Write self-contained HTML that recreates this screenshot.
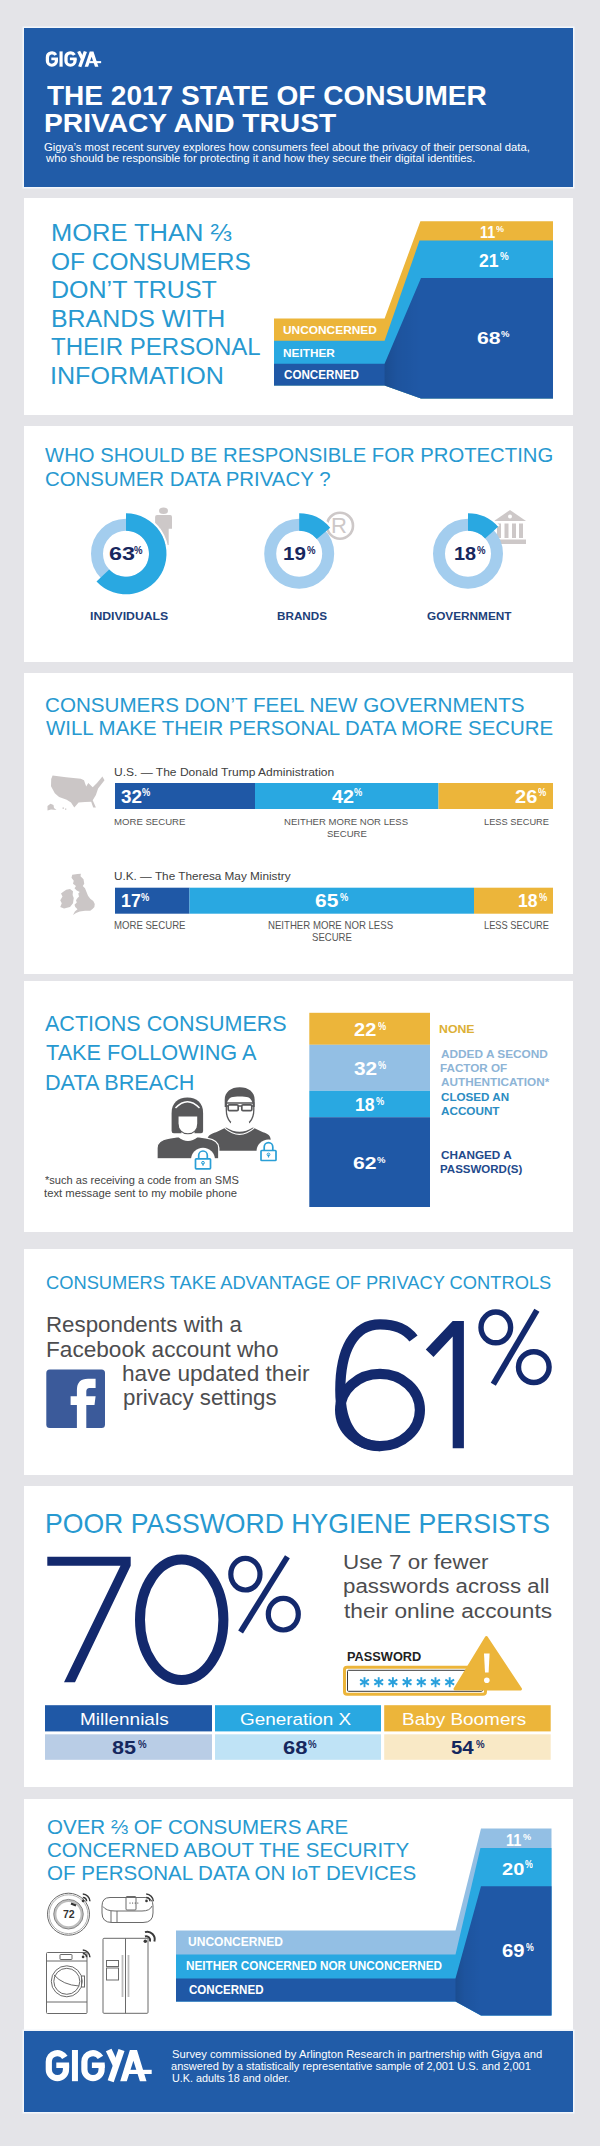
<!DOCTYPE html>
<html><head><meta charset="utf-8"><title>Gigya 2017 State of Consumer Privacy and Trust</title>
<style>
html,body{margin:0;padding:0;}
body{width:600px;height:2146px;position:relative;overflow:hidden;background:#e4e4e8;font-family:"Liberation Sans",sans-serif;}
.p{position:absolute;left:24px;width:549px;background:#fff;}
.t{position:absolute;white-space:nowrap;line-height:1;transform-origin:0 0;}
svg{position:absolute;overflow:visible;}
</style></head><body>
<div class="p" style="top:28px;height:159px;background:#215ca8;box-shadow:0 0 0 1.5px #f2f6fb"></div>
<div class="p" style="top:198px;height:217px"></div>
<div class="p" style="top:426px;height:236px"></div>
<div class="p" style="top:673px;height:301px"></div>
<div class="p" style="top:981px;height:251px"></div>
<div class="p" style="top:1249px;height:226px"></div>
<div class="p" style="top:1486px;height:301px"></div>
<div class="p" style="top:1799px;height:313px"></div>
<div class="p" style="top:2031px;height:81px;background:#215ca8;box-shadow:0 0 0 1.5px #f2f6fb"></div>
<svg style="left:0;top:0" width="600" height="2146" viewBox="0 0 600 2146">
<g transform="translate(45.8,51.4) scale(0.522,0.49)"><g fill="none" stroke="#fff" stroke-linejoin="miter"><path d="M19.15,7.4 A8.6,8.6 0 0 0 3.1,11.7 V19.5 A8.6,8.6 0 0 0 20.3,19.5 V14.6" stroke-width="6.2"/><path d="M23.4,15.25 H10.6" stroke-width="5.5"/><path d="M29.25,0 V31.2" stroke-width="6"/><path d="M54.75,7.4 A8.6,8.6 0 0 0 38.7,11.7 V19.5 A8.6,8.6 0 0 0 55.900000000000006,19.5 V14.6" stroke-width="6.2"/><path d="M59.0,15.25 H46.2" stroke-width="5.5"/><path d="M63,0 L70.3,15.5" stroke-width="6.2"/><path d="M75.8,0 L65,31.2" stroke-width="6.4"/></g><path fill="#fff" d="M74.5,31.2 L84.2,0 H91.3 L100.8,31.2 H94.2 L87.7,10.8 L81.1,31.2 Z"/><rect x="83.2" y="19.8" width="22.8" height="4.2" fill="#fff"/></g>
<g transform="translate(45.7,2050.0) scale(1.0,1.0)"><g fill="none" stroke="#fff" stroke-linejoin="miter"><path d="M19.15,7.4 A8.6,8.6 0 0 0 3.1,11.7 V19.5 A8.6,8.6 0 0 0 20.3,19.5 V14.6" stroke-width="6.2"/><path d="M23.4,15.25 H10.6" stroke-width="5.5"/><path d="M29.25,0 V31.2" stroke-width="6"/><path d="M54.75,7.4 A8.6,8.6 0 0 0 38.7,11.7 V19.5 A8.6,8.6 0 0 0 55.900000000000006,19.5 V14.6" stroke-width="6.2"/><path d="M59.0,15.25 H46.2" stroke-width="5.5"/><path d="M63,0 L70.3,15.5" stroke-width="6.2"/><path d="M75.8,0 L65,31.2" stroke-width="6.4"/></g><path fill="#fff" d="M74.5,31.2 L84.2,0 H91.3 L100.8,31.2 H94.2 L87.7,10.8 L81.1,31.2 Z"/><rect x="83.2" y="19.8" width="22.8" height="4.2" fill="#fff"/></g>
<path fill="#ecb53a" d="M274,318.4 H384.6 L420.4,221.3 H553 H553 V398.4 H421 L384.6,385.5 H274 Z"/>
<path fill="#29a8e1" d="M274,340.8 H384.6 L419.5,240.6 H553 H553 V398.4 H421 L384.6,385.5 H274 Z"/>
<path fill="#1f58a6" d="M274,363.7 H384.6 L421,278 H553 H553 V398.4 H421 L384.6,385.5 H274 Z"/>
<defs><linearGradient id="fold2" x1="0" x2="1" y1="0" y2="0"><stop offset="0" stop-color="#000" stop-opacity="0.13"/><stop offset="0.35" stop-color="#000" stop-opacity="0.05"/><stop offset="1" stop-color="#000" stop-opacity="0"/></linearGradient></defs><path fill="url(#fold2)" d="M384.6,363.7 L421,278 V398.4 L384.6,385.5 Z"/>
<g fill="#cdc8c8"><ellipse cx="163.5" cy="510.7" rx="4.5" ry="3.2"/><path d="M157,515.1 H170.2 Q172,515.1 172,517 V528.7 H168.7 V545 H160.7 V528.7 H155.1 V517 Q155.1,515.1 157,515.1 Z"/></g>
<circle cx="340" cy="525.7" r="13" fill="none" stroke="#cdc8c8" stroke-width="2.6"/>
<g fill="#cdc8c8"><path d="M510,510 L526,521 H494 Z"/><rect x="494" y="539.5" width="32" height="4.5"/><rect x="497" y="523.5" width="4" height="14.5"/><rect x="504.5" y="523.5" width="4" height="14.5"/><rect x="512" y="523.5" width="4" height="14.5"/><rect x="519" y="523.5" width="4" height="14.5"/></g>
<circle cx="510" cy="516.5" r="2" fill="#fff"/>
<circle cx="126" cy="553.8" r="29" fill="none" stroke="#a3cdee" stroke-width="12"/>
<path fill="none" stroke="#fff" stroke-width="2.2" d="M126,512.3 A41.5,41.5 0 1 1 95.75,582.21"/><path fill="#29a8e1" d="M126.00,513.30 A40.5,40.5 0 1 1 96.48,581.52 L109.23,569.54 A23,23 0 1 0 126.00,530.80 Z"/>
<circle cx="299.2" cy="553.8" r="29" fill="none" stroke="#a3cdee" stroke-width="12"/>
<path fill="none" stroke="#fff" stroke-width="2.2" d="M299.2,512.3 A41.5,41.5 0 0 1 330.99,527.12"/><path fill="#29a8e1" d="M299.20,513.30 A40.5,40.5 0 0 1 330.22,527.77 L316.82,539.02 A23,23 0 0 0 299.20,530.80 Z"/>
<circle cx="468" cy="553.8" r="29" fill="none" stroke="#a3cdee" stroke-width="12"/>
<path fill="none" stroke="#fff" stroke-width="2.2" d="M468,512.3 A41.5,41.5 0 0 1 498.84,526.03"/><path fill="#29a8e1" d="M468.00,513.30 A40.5,40.5 0 0 1 498.10,526.70 L485.09,538.41 A23,23 0 0 0 468.00,530.80 Z"/>
<path fill="#cbc6c6" d="M52.6,775.4 L66,777.2 L80.8,778.7 L84,780.3 L86.2,786.5 L88.3,783 L92.7,787.3 L97,783 L102.4,776.5 L104.5,780.3 L98.1,788.4 L95.9,795 L92.7,800.3 L95.9,807.4 L93.2,807.4 L91.2,801.8 L85,802 L78.6,802.5 L74.3,807.6 L71,802.5 L66.7,799.8 L59.1,797 L54.8,793.3 L51,786.2 L51.2,779 Z"/>
<path fill="#cbc6c6" d="M47.5,806 L50.5,803.8 L53.5,805 L54,808 L56.5,810 L51,809.5 L47.5,810.5 Z"/>
<path fill="#cbc6c6" d="M62.5,807.5 h1.5 v1.2 h-1.5 Z M65,808.5 h1.3 v1.3 h-1.3 Z"/>
<path fill="#cbc6c6" d="M77.51,874.00 L80.88,873.63 L80.51,876.25 L83.51,879.25 L84.26,883.75 L82.76,886.00 L85.01,888.26 L86.51,892.01 L88.01,895.76 L90.26,898.76 L93.26,901.01 L94.76,904.01 L94.38,907.01 L92.51,908.89 L90.26,910.76 L85.01,910.76 L79.76,911.51 L76.01,913.01 L73.00,914.89 L74.88,911.51 L77.51,909.26 L75.26,907.01 L74.50,904.76 L76.76,902.51 L76.01,900.26 L77.51,898.01 L79.01,896.51 L78.26,893.51 L79.76,892.01 L76.76,890.51 L74.50,888.26 L76.01,886.00 L73.00,883.75 L73.75,880.75 L71.50,877.75 L72.25,874.75 Z"/>
<path fill="#cbc6c6" d="M66.25,889.76 L70.00,889.01 L73.00,891.26 L72.63,895.01 L73.75,898.01 L73.00,903.26 L70.00,907.01 L64.00,908.51 L60.25,907.01 L61.75,903.26 L60.25,900.26 L62.50,896.51 L61.00,893.51 L64.00,891.26 Z"/>
<rect x="115" y="783" width="140" height="26" fill="#1f58a6"/>
<rect x="255" y="783" width="183.5" height="26" fill="#29a8e1"/>
<rect x="438.5" y="783" width="114.5" height="26" fill="#ecb53a"/>
<rect x="115" y="887.7" width="74.5" height="26.0" fill="#1f58a6"/>
<rect x="189.5" y="887.7" width="284.5" height="26.0" fill="#29a8e1"/>
<rect x="474" y="887.7" width="79" height="26.0" fill="#ecb53a"/>
<rect x="309.3" y="1012.8" width="120.69999999999999" height="32.0" fill="#ecb53a"/>
<rect x="309.3" y="1044.8" width="120.69999999999999" height="46.0" fill="#93bfe4"/>
<rect x="309.3" y="1090.8" width="120.69999999999999" height="26.40000000000009" fill="#29a8e1"/>
<rect x="309.3" y="1117.2" width="120.69999999999999" height="89.79999999999995" fill="#1f58a6"/>
<g><path fill="#58585a" d="M207.3,1150.7 V1140 C207.3,1135.5 211,1133.8 216,1132.2 L226,1127.5 Q239.5,1136 253,1127.5 L263,1132.2 C268,1133.8 270.7,1135.5 270.7,1140 V1150.7 Z"/><path fill="none" stroke="#fff" stroke-width="1.1" d="M224.8,1128.2 Q239.5,1140.5 254.2,1128.2"/><path fill="#fff" stroke="#58585a" stroke-width="1.3" d="M226.3,1103 V1110 C226.3,1120 232,1126 240,1126 C248,1126 253.8,1120 253.8,1110 V1103 Z"/><path fill="#fff" d="M231,1122 H249 V1129 Q240,1133 231,1129 Z"/><path fill="#58585a" d="M224.7,1107 V1100 C224.7,1092 231,1087.3 239.7,1087.3 C248.4,1087.3 254.7,1092 254.7,1100 V1107 H253 C252.8,1101.5 251,1098.5 248,1097.3 C245,1096.3 234.5,1096.3 231.5,1097.3 C228.5,1098.5 226.8,1101.5 226.5,1107 Z"/><g fill="none" stroke="#58585a" stroke-width="1.7"><rect x="228.2" y="1104.8" width="10" height="5.8" rx="1.2"/><rect x="241.8" y="1104.8" width="10" height="5.8" rx="1.2"/><path d="M238.2,1106 H241.8 M226.3,1106 H228.2 M251.8,1106 H253.8"/></g></g>
<g><path fill="#58585a" stroke="#fff" stroke-width="1.3" d="M157,1158.8 V1148 C157,1142 162,1139.5 169,1138.2 L178.5,1136.5 Q187.9,1144 197.5,1136.5 L207,1138.2 C214,1139.5 218.8,1142 218.8,1148 V1158.8 Z"/><path fill="#58585a" d="M171.6,1131 V1113 C171.6,1103 178,1097.6 187.4,1097.6 C196.8,1097.6 203.1,1103 203.1,1113 V1131 Q203.1,1133.2 201,1133.2 H173.8 Q171.6,1133.2 171.6,1131 Z"/><path fill="#fff" d="M181.5,1130 H194.5 V1137 Q187.9,1141.5 181.5,1137 Z"/><path fill="#fff" stroke="#58585a" stroke-width="1.1" d="M178,1116 V1123.5 C178,1130 182.5,1133.8 187.9,1133.8 C193.3,1133.8 197.8,1130 197.8,1123.5 V1116 Z"/><path fill="none" stroke="#fff" stroke-width="1.4" d="M175.5,1108 Q187.4,1095.5 199.5,1108"/></g>
<circle cx="203" cy="1159.8" r="12" fill="#fff"/><g fill="none" stroke="#2a9fd6" stroke-width="1.7"><path d="M198.7,1158.8 V1155.3 A4.3,4.3 0 0 1 207.3,1155.3 V1158.8"/><rect x="195.5" y="1158.8" width="15" height="10" rx="0.8"/><path d="M203,1162.8 v3" stroke-width="1.2"/></g><circle cx="203" cy="1162.8" r="1.4" fill="none" stroke="#2a9fd6" stroke-width="1"/>
<circle cx="268.5" cy="1151.5" r="12" fill="#fff"/><g fill="none" stroke="#2a9fd6" stroke-width="1.7"><path d="M264.2,1150.5 V1147.0 A4.3,4.3 0 0 1 272.8,1147.0 V1150.5"/><rect x="261.0" y="1150.5" width="15" height="10" rx="0.8"/><path d="M268.5,1154.5 v3" stroke-width="1.2"/></g><circle cx="268.5" cy="1154.5" r="1.4" fill="none" stroke="#2a9fd6" stroke-width="1"/>
<rect x="46.3" y="1369.4" width="58.7" height="58.7" rx="3.5" fill="#3b5a9a"/>
<path fill="#fff" d="M76.9,1428.1 V1405 H70.6 V1396.3 H76.9 V1390 Q76.9,1378.8 88,1378.8 H95.6 V1388 H89.5 Q86.3,1388 86.3,1391.5 V1396.3 H95.6 L94.5,1405 H86.3 V1428.1 Z"/>
<g fill="none" stroke="#13296d" stroke-width="10.2"><path d="M413.5,1338.5 C406,1328.5 395,1324.3 380,1324.3 C354,1324.3 340.3,1350 340.3,1390 C340.3,1427 355,1446.1 380,1446.1"/><ellipse cx="380" cy="1410" rx="39.9" ry="36.2"/></g>
<path fill="#13296d" d="M452.7,1321 H463.9 V1448.2 H452.7 V1336.5 L433.5,1357 L425.8,1349.5 Z"/>
<g fill="none" stroke="#13296d"><ellipse cx="495.8" cy="1327.4" rx="14.8" ry="15.4" stroke-width="5.4"/><ellipse cx="533.8" cy="1367.1" rx="15.3" ry="15.4" stroke-width="5.4"/><path d="M536.9,1310.3 L493.3,1384.2" stroke-width="5.9"/></g>
<path fill="#13296d" d="M47.3,1556.7 H130.7 V1565.7 L75,1682.3 H64 L120.5,1565.7 H47.3 Z"/>
<ellipse cx="181.7" cy="1619.7" rx="41.7" ry="60.3" fill="none" stroke="#13296d" stroke-width="10"/>
<g fill="none" stroke="#13296d"><ellipse cx="245.4" cy="1574.2" rx="14.6" ry="15.8" stroke-width="5.2"/><ellipse cx="283.3" cy="1614.2" rx="15" ry="15.8" stroke-width="5.2"/><path d="M287.4,1556.8 L240.6,1631.9" stroke-width="5.7"/></g>
<rect x="344.5" y="1667.3" width="141" height="27" rx="2.5" fill="#fff" stroke="#ecb53a" stroke-width="3"/>
<rect x="347.5" y="1670.3" width="135" height="21" rx="1" fill="none" stroke="#3a3a3a" stroke-width="1"/>
<g stroke="#29a0dc" stroke-width="1.9" stroke-linecap="butt"><path d="M364.5,1677.2 V1687.2"/><path d="M360.1,1679.7 L368.9,1684.7"/><path d="M360.1,1684.7 L368.9,1679.7"/></g>
<g stroke="#29a0dc" stroke-width="1.9" stroke-linecap="butt"><path d="M378.7,1677.2 V1687.2"/><path d="M374.3,1679.7 L383.09999999999997,1684.7"/><path d="M374.3,1684.7 L383.09999999999997,1679.7"/></g>
<g stroke="#29a0dc" stroke-width="1.9" stroke-linecap="butt"><path d="M392.9,1677.2 V1687.2"/><path d="M388.5,1679.7 L397.29999999999995,1684.7"/><path d="M388.5,1684.7 L397.29999999999995,1679.7"/></g>
<g stroke="#29a0dc" stroke-width="1.9" stroke-linecap="butt"><path d="M407.1,1677.2 V1687.2"/><path d="M402.70000000000005,1679.7 L411.5,1684.7"/><path d="M402.70000000000005,1684.7 L411.5,1679.7"/></g>
<g stroke="#29a0dc" stroke-width="1.9" stroke-linecap="butt"><path d="M421.3,1677.2 V1687.2"/><path d="M416.90000000000003,1679.7 L425.7,1684.7"/><path d="M416.90000000000003,1684.7 L425.7,1679.7"/></g>
<g stroke="#29a0dc" stroke-width="1.9" stroke-linecap="butt"><path d="M435.5,1677.2 V1687.2"/><path d="M431.1,1679.7 L439.9,1684.7"/><path d="M431.1,1684.7 L439.9,1679.7"/></g>
<g stroke="#29a0dc" stroke-width="1.9" stroke-linecap="butt"><path d="M449.7,1677.2 V1687.2"/><path d="M445.3,1679.7 L454.09999999999997,1684.7"/><path d="M445.3,1684.7 L454.09999999999997,1679.7"/></g>
<path fill="#ecb53a" stroke="#ecb53a" stroke-width="3" stroke-linejoin="round" d="M486.4,1637.5 L520.5,1689 H455 Z"/>
<path fill="#fff" d="M484,1653.5 H489.6 L488.6,1672.5 H485 Z"/><circle cx="486.8" cy="1680.3" r="2.8" fill="#fff"/>
<rect x="45" y="1705.2" width="167" height="26.2" fill="#1f58a6"/>
<rect x="45" y="1734.3" width="167" height="25.5" fill="#b9cde6"/>
<rect x="215" y="1705.2" width="166" height="26.2" fill="#29a8e1"/>
<rect x="215" y="1734.3" width="166" height="25.5" fill="#bfe3f6"/>
<rect x="384.2" y="1705.2" width="166.50000000000006" height="26.2" fill="#ecb53a"/>
<rect x="384.2" y="1734.3" width="166.50000000000006" height="25.5" fill="#f9e9c6"/>
<path fill="#93bfe4" d="M176,1930.5 H455.5 L481,1828.5 H551.5 H551.5 V2015.4 H481 L455.5,2001.6 H176 Z"/>
<path fill="#29a8e1" d="M176,1954.5 H455.5 L480.4,1848 H551.5 H551.5 V2015.4 H481 L455.5,2001.6 H176 Z"/>
<path fill="#1f58a6" d="M176,1978.5 H455.5 L481,1886.3 H551.5 H551.5 V2015.4 H481 L455.5,2001.6 H176 Z"/>
<defs><linearGradient id="fold8" x1="0" x2="1" y1="0" y2="0"><stop offset="0" stop-color="#000" stop-opacity="0.13"/><stop offset="0.35" stop-color="#000" stop-opacity="0.05"/><stop offset="1" stop-color="#000" stop-opacity="0"/></linearGradient></defs><path fill="url(#fold8)" d="M455.5,1978.5 L481,1886.3 V2015.4 L455.5,2001.6 Z"/>
<circle cx="68.5" cy="1914.2" r="21" fill="none" stroke="#6a6a6a" stroke-width="1"/><circle cx="68.5" cy="1914.2" r="19.4" fill="none" stroke="#9a9a9a" stroke-width="0.8"/>
<circle cx="68.5" cy="1914.2" r="13.3" fill="none" stroke="#bdbdbd" stroke-width="2.4"/>
<circle cx="68.5" cy="1914.2" r="14.8" fill="none" stroke="#6a6a6a" stroke-width="0.8"/>
<path d="M71,1903.5 L76,1905.5" stroke="#333" stroke-width="2.2"/>
<g fill="none" stroke="#3a3a3a" stroke-width="1.52"><path d="M82.8,1897.4 A4,4 0 0 1 86.6,1901.2"/><path d="M82.8,1894.075 A7.5,7.5 0 0 1 89.925,1901.2"/></g><circle cx="83.1" cy="1900.9" r="1.3299999999999998" fill="#3a3a3a"/>
<g fill="none" stroke="#6a6a6a" stroke-width="1"><path d="M110,1897.5 H145 Q153,1897.5 153,1906 V1913 Q153,1922.5 143,1922.5 H112 Q102,1922.5 102,1913 V1906 Q102,1897.5 110,1897.5 Z"/><path d="M103,1906.5 Q106,1911 115,1911 H142 Q150,1911 152,1906"/><path d="M111,1911 V1922.5 M117,1911 V1922.5"/><rect x="126" y="1896.5" width="10" height="13.5" rx="1"/></g>
<circle cx="130.0" cy="1903" r="0.6" fill="#333"/><circle cx="132.6" cy="1903" r="0.6" fill="#333"/><circle cx="135.2" cy="1903" r="0.6" fill="#333"/><circle cx="137.8" cy="1903" r="0.6" fill="#333"/>
<g fill="none" stroke="#3a3a3a" stroke-width="1.52"><path d="M146.2,1897.4 A4,4 0 0 1 150.0,1901.2"/><path d="M146.2,1894.075 A7.5,7.5 0 0 1 153.325,1901.2"/></g><circle cx="146.5" cy="1900.9" r="1.3299999999999998" fill="#3a3a3a"/>
<g fill="none" stroke="#6a6a6a" stroke-width="1"><rect x="46.5" y="1952.5" width="40.5" height="61" rx="1"/><path d="M46.5,1961 H87 M46.5,2002 H87"/><rect x="60" y="1954.5" width="12" height="5" rx="0.5"/><circle cx="66.8" cy="1981.3" r="15.5"/><circle cx="66.8" cy="1981.3" r="13"/><path d="M54,1975 Q63,1985 79,1986"/><rect x="81.5" y="1976" width="3" height="11"/></g>
<g fill="none" stroke="#3a3a3a" stroke-width="1.52"><path d="M82.8,1953.4 A4,4 0 0 1 86.6,1957.2"/><path d="M82.8,1950.075 A7.5,7.5 0 0 1 89.925,1957.2"/></g><circle cx="83.1" cy="1956.9" r="1.3299999999999998" fill="#3a3a3a"/>
<g fill="none" stroke="#6a6a6a" stroke-width="1"><rect x="103" y="1938.3" width="45" height="75" rx="1"/><path d="M125.5,1938.3 V2013.3"/><rect x="106.5" y="1960.5" width="12" height="6"/><rect x="106.5" y="1968" width="12" height="12"/></g>
<g fill="none" stroke="#bdbdbd" stroke-width="1.8"><path d="M122.5,1955 V1997 M128.5,1955 V1997"/></g>
<g fill="none" stroke="#3a3a3a" stroke-width="2.0"><path d="M145,1936.5 A4,4 0 0 1 150.0,1941.5"/><path d="M145,1932.125 A7.5,7.5 0 0 1 154.375,1941.5"/></g><circle cx="145.3" cy="1941.2" r="1.75" fill="#3a3a3a"/>
</svg>
<div class="t" style="left:46.52px;top:82.45px;font-size:27.23px;color:#fff;font-weight:bold;transform:scaleX(1.0298);">THE 2017 STATE OF CONSUMER</div>
<div class="t" style="left:44.02px;top:110.04px;font-size:26.54px;color:#fff;font-weight:bold;transform:scaleX(1.0620);">PRIVACY AND TRUST</div>
<div class="t" style="left:44.43px;top:141.96px;font-size:11.03px;color:#fff;transform:scaleX(1.0230);">Gigya’s most recent survey explores how consumers feel about the privacy of their personal data,</div>
<div class="t" style="left:46.00px;top:152.54px;font-size:11.17px;color:#fff;transform:scaleX(1.0166);">who should be responsible for protecting it and how they secure their digital identities.</div>
<div class="t" style="left:50.55px;top:220.55px;font-size:24.16px;color:#2799d0;transform:scaleX(1.0548);">MORE THAN ⅔</div>
<div class="t" style="left:51.38px;top:250.10px;font-size:24.16px;color:#2799d0;transform:scaleX(1.0124);">OF CONSUMERS</div>
<div class="t" style="left:50.59px;top:277.65px;font-size:24.16px;color:#2799d0;transform:scaleX(1.0357);">DON’T TRUST</div>
<div class="t" style="left:50.60px;top:307.20px;font-size:24.16px;color:#2799d0;transform:scaleX(1.0311);">BRANDS WITH</div>
<div class="t" style="left:51.11px;top:334.75px;font-size:24.16px;color:#2799d0;transform:scaleX(0.9949);">THEIR PERSONAL</div>
<div class="t" style="left:50.34px;top:364.30px;font-size:24.16px;color:#2799d0;transform:scaleX(1.0387);">INFORMATION</div>
<div class="t" style="left:283.28px;top:324.54px;font-size:11.17px;color:#fff;font-weight:bold;transform:scaleX(1.0663);">UNCONCERNED</div>
<div class="t" style="left:283.18px;top:347.81px;font-size:11.45px;color:#fff;font-weight:bold;transform:scaleX(1.0320);">NEITHER</div>
<div class="t" style="left:283.54px;top:369.95px;font-size:11.87px;color:#fff;font-weight:bold;transform:scaleX(0.9803);">CONCERNED</div>
<div class="t" style="left:479.93px;top:224.38px;font-size:17.04px;color:#fff;font-weight:bold;transform:scaleX(0.8400);">11</div>
<div class="t" style="left:496.48px;top:224.33px;font-size:9.88px;color:#fff;font-weight:bold;transform:scaleX(0.9090);">%</div>
<div class="t" style="left:478.65px;top:252.57px;font-size:17.88px;color:#fff;font-weight:bold;transform:scaleX(0.9861);">21</div>
<div class="t" style="left:499.58px;top:251.52px;font-size:10.37px;color:#fff;font-weight:bold;transform:scaleX(0.9430);">%</div>
<div class="t" style="left:476.55px;top:330.06px;font-size:17.18px;color:#fff;font-weight:bold;transform:scaleX(1.2340);">68</div>
<div class="t" style="left:500.59px;top:329.02px;font-size:9.96px;color:#fff;font-weight:bold;transform:scaleX(0.9546);">%</div>
<div class="t" style="left:45.00px;top:445.24px;font-size:20.39px;color:#2799d0;transform:scaleX(0.9953);">WHO SHOULD BE RESPONSIBLE FOR PROTECTING</div>
<div class="t" style="left:44.98px;top:469.34px;font-size:20.39px;color:#2799d0;transform:scaleX(1.0020);">CONSUMER DATA PRIVACY ?</div>
<div class="t" style="left:108.65px;top:544.89px;font-size:18.44px;color:#17275e;font-weight:bold;transform:scaleX(1.2650);">63</div>
<div class="t" style="left:134.40px;top:544.85px;font-size:10.69px;color:#17275e;font-weight:bold;transform:scaleX(0.8962);">%</div>
<div class="t" style="left:282.76px;top:544.89px;font-size:18.44px;color:#17275e;font-weight:bold;transform:scaleX(1.1168);">19</div>
<div class="t" style="left:306.87px;top:544.85px;font-size:10.69px;color:#17275e;font-weight:bold;transform:scaleX(0.8962);">%</div>
<div class="t" style="left:454.40px;top:544.89px;font-size:18.44px;color:#17275e;font-weight:bold;transform:scaleX(1.0756);">18</div>
<div class="t" style="left:476.87px;top:544.85px;font-size:10.69px;color:#17275e;font-weight:bold;transform:scaleX(0.8962);">%</div>
<div class="t" style="left:90.14px;top:610.84px;font-size:11.17px;color:#1d3f7a;font-weight:bold;transform:scaleX(1.0977);">INDIVIDUALS</div>
<div class="t" style="left:277.18px;top:610.84px;font-size:11.17px;color:#1d3f7a;font-weight:bold;transform:scaleX(1.0480);">BRANDS</div>
<div class="t" style="left:426.51px;top:610.84px;font-size:11.17px;color:#1d3f7a;font-weight:bold;transform:scaleX(1.0562);">GOVERNMENT</div>
<div class="t" style="left:331.24px;top:515.17px;font-size:21.65px;color:#cdc8c8;transform:scaleX(1.0178);">R</div>
<div class="t" style="left:45.17px;top:694.90px;font-size:20.67px;color:#2799d0;transform:scaleX(0.9972);">CONSUMERS DON’T FEEL NEW GOVERNMENTS</div>
<div class="t" style="left:46.20px;top:717.80px;font-size:20.67px;color:#2799d0;transform:scaleX(0.9894);">WILL MAKE THEIR PERSONAL DATA MORE SECURE</div>
<div class="t" style="left:114.24px;top:766.54px;font-size:11.17px;color:#404040;transform:scaleX(1.0772);">U.S. — The Donald Trump Administration</div>
<div class="t" style="left:114.26px;top:870.54px;font-size:11.17px;color:#404040;transform:scaleX(1.0532);">U.K. — The Theresa May Ministry</div>
<div class="t" style="left:120.57px;top:788.92px;font-size:17.46px;color:#fff;font-weight:bold;transform:scaleX(1.0838);">32</div>
<div class="t" style="left:142.44px;top:787.88px;font-size:10.13px;color:#fff;font-weight:bold;transform:scaleX(0.9202);">%</div>
<div class="t" style="left:331.72px;top:788.92px;font-size:17.46px;color:#fff;font-weight:bold;transform:scaleX(1.1285);">42</div>
<div class="t" style="left:354.44px;top:787.88px;font-size:10.13px;color:#fff;font-weight:bold;transform:scaleX(0.9202);">%</div>
<div class="t" style="left:515.40px;top:788.92px;font-size:17.46px;color:#fff;font-weight:bold;transform:scaleX(1.1482);">26</div>
<div class="t" style="left:538.44px;top:787.88px;font-size:10.13px;color:#fff;font-weight:bold;transform:scaleX(0.9202);">%</div>
<div class="t" style="left:120.93px;top:892.72px;font-size:17.46px;color:#fff;font-weight:bold;transform:scaleX(1.0208);">17</div>
<div class="t" style="left:141.44px;top:892.68px;font-size:10.13px;color:#fff;font-weight:bold;transform:scaleX(0.9202);">%</div>
<div class="t" style="left:315.16px;top:892.72px;font-size:17.46px;color:#fff;font-weight:bold;transform:scaleX(1.2002);">65</div>
<div class="t" style="left:339.93px;top:892.68px;font-size:10.13px;color:#fff;font-weight:bold;transform:scaleX(0.9202);">%</div>
<div class="t" style="left:517.95px;top:892.72px;font-size:17.46px;color:#fff;font-weight:bold;transform:scaleX(1.0062);">18</div>
<div class="t" style="left:538.93px;top:892.68px;font-size:10.13px;color:#fff;font-weight:bold;transform:scaleX(0.9202);">%</div>
<div class="t" style="left:114.23px;top:817.02px;font-size:9.78px;color:#555555;transform:scaleX(0.9825);">MORE SECURE</div>
<div class="t" style="left:284.44px;top:817.02px;font-size:9.78px;color:#555555;transform:scaleX(0.9768);">NEITHER MORE NOR LESS</div>
<div class="t" style="left:326.72px;top:829.02px;font-size:9.78px;color:#555555;transform:scaleX(0.9784);">SECURE</div>
<div class="t" style="left:484.26px;top:817.02px;font-size:9.78px;color:#555555;transform:scaleX(0.9501);">LESS SECURE</div>
<div class="t" style="left:114.23px;top:920.95px;font-size:10.34px;color:#555555;transform:scaleX(0.9294);">MORE SECURE</div>
<div class="t" style="left:268.22px;top:920.95px;font-size:10.34px;color:#555555;transform:scaleX(0.9316);">NEITHER MORE NOR LESS</div>
<div class="t" style="left:311.50px;top:932.95px;font-size:10.34px;color:#555555;transform:scaleX(0.9255);">SECURE</div>
<div class="t" style="left:484.26px;top:920.95px;font-size:10.34px;color:#555555;transform:scaleX(0.8988);">LESS SECURE</div>
<div class="t" style="left:45.20px;top:1013.12px;font-size:22.07px;color:#2799d0;transform:scaleX(0.9760);">ACTIONS CONSUMERS</div>
<div class="t" style="left:45.77px;top:1041.72px;font-size:22.07px;color:#2799d0;transform:scaleX(0.9831);">TAKE FOLLOWING A</div>
<div class="t" style="left:45.27px;top:1072.32px;font-size:22.07px;color:#2799d0;transform:scaleX(0.9802);">DATA BREACH</div>
<div class="t" style="left:45.38px;top:1175.36px;font-size:11.03px;color:#444;transform:scaleX(1.0051);">*such as receiving a code from an SMS</div>
<div class="t" style="left:44.49px;top:1187.54px;font-size:11.17px;color:#444;transform:scaleX(1.0105);">text message sent to my mobile phone</div>
<div class="t" style="left:354.40px;top:1020.95px;font-size:18.02px;color:#fff;font-weight:bold;transform:scaleX(1.1126);">22</div>
<div class="t" style="left:377.69px;top:1021.90px;font-size:10.45px;color:#fff;font-weight:bold;transform:scaleX(0.8783);">%</div>
<div class="t" style="left:353.53px;top:1059.85px;font-size:18.02px;color:#fff;font-weight:bold;transform:scaleX(1.1546);">32</div>
<div class="t" style="left:377.69px;top:1060.80px;font-size:10.45px;color:#fff;font-weight:bold;transform:scaleX(0.8783);">%</div>
<div class="t" style="left:355.25px;top:1097.29px;font-size:17.74px;color:#fff;font-weight:bold;transform:scaleX(0.9922);">18</div>
<div class="t" style="left:375.80px;top:1097.24px;font-size:10.29px;color:#fff;font-weight:bold;transform:scaleX(0.8997);">%</div>
<div class="t" style="left:353.05px;top:1154.56px;font-size:17.18px;color:#fff;font-weight:bold;transform:scaleX(1.2314);">62</div>
<div class="t" style="left:377.01px;top:1154.52px;font-size:9.96px;color:#fff;font-weight:bold;transform:scaleX(0.9546);">%</div>
<div class="t" style="left:439.14px;top:1023.27px;font-size:11.73px;color:#dcb035;font-weight:bold;transform:scaleX(1.0498);">NONE</div>
<div class="t" style="left:440.65px;top:1049.01px;font-size:11.45px;color:#8db4d6;font-weight:bold;transform:scaleX(1.0339);">ADDED A SECOND</div>
<div class="t" style="left:440.18px;top:1062.81px;font-size:11.45px;color:#8db4d6;font-weight:bold;transform:scaleX(1.0182);">FACTOR OF</div>
<div class="t" style="left:440.65px;top:1076.61px;font-size:11.45px;color:#8db4d6;font-weight:bold;transform:scaleX(1.0284);">AUTHENTICATION*</div>
<div class="t" style="left:440.53px;top:1091.71px;font-size:11.45px;color:#2a8cc2;font-weight:bold;transform:scaleX(1.0174);">CLOSED AN</div>
<div class="t" style="left:440.65px;top:1105.71px;font-size:11.45px;color:#2a8cc2;font-weight:bold;transform:scaleX(1.0231);">ACCOUNT</div>
<div class="t" style="left:441.33px;top:1150.01px;font-size:11.45px;color:#1f4a8c;font-weight:bold;transform:scaleX(1.0259);">CHANGED A</div>
<div class="t" style="left:439.99px;top:1163.51px;font-size:11.45px;color:#1f4a8c;font-weight:bold;transform:scaleX(1.0061);">PASSWORD(S)</div>
<div class="t" style="left:46.09px;top:1274.70px;font-size:17.60px;color:#2799d0;transform:scaleX(1.0399);">CONSUMERS TAKE ADVANTAGE OF PRIVACY CONTROLS</div>
<div class="t" style="left:46.21px;top:1314.91px;font-size:21.37px;color:#4d4d4f;transform:scaleX(1.0445);">Respondents with a</div>
<div class="t" style="left:46.19px;top:1340.49px;font-size:21.51px;color:#4d4d4f;transform:scaleX(1.0515);">Facebook account who</div>
<div class="t" style="left:122.42px;top:1364.21px;font-size:21.37px;color:#4d4d4f;transform:scaleX(1.0604);">have updated their</div>
<div class="t" style="left:122.67px;top:1387.61px;font-size:21.37px;color:#4d4d4f;transform:scaleX(1.0435);">privacy settings</div>
<div class="t" style="left:44.67px;top:1509.95px;font-size:27.23px;color:#2799d0;transform:scaleX(0.9773);">POOR PASSWORD HYGIENE PERSISTS</div>
<div class="t" style="left:343.01px;top:1552.32px;font-size:20.53px;color:#4d4d4f;transform:scaleX(1.0912);">Use 7 or fewer</div>
<div class="t" style="left:343.46px;top:1576.32px;font-size:20.53px;color:#4d4d4f;transform:scaleX(1.0848);">passwords across all</div>
<div class="t" style="left:343.97px;top:1600.62px;font-size:20.53px;color:#4d4d4f;transform:scaleX(1.1055);">their online accounts</div>
<div class="t" style="left:347.30px;top:1650.82px;font-size:12.85px;color:#222;font-weight:bold;transform:scaleX(0.9942);">PASSWORD</div>
<div class="t" style="left:80.27px;top:1711.46px;font-size:17.18px;color:#fff;transform:scaleX(1.1057);">Millennials</div>
<div class="t" style="left:112.49px;top:1738.63px;font-size:18.16px;color:#15275e;font-weight:bold;transform:scaleX(1.1879);">85</div>
<div class="t" style="left:137.75px;top:1738.59px;font-size:10.53px;color:#15275e;font-weight:bold;transform:scaleX(0.9200);">%</div>
<div class="t" style="left:240.06px;top:1711.46px;font-size:17.18px;color:#fff;transform:scaleX(1.0983);">Generation X</div>
<div class="t" style="left:283.12px;top:1738.63px;font-size:18.16px;color:#15275e;font-weight:bold;transform:scaleX(1.2106);">68</div>
<div class="t" style="left:308.38px;top:1738.59px;font-size:10.53px;color:#15275e;font-weight:bold;transform:scaleX(0.9200);">%</div>
<div class="t" style="left:402.48px;top:1711.46px;font-size:17.18px;color:#fff;transform:scaleX(1.1028);">Baby Boomers</div>
<div class="t" style="left:451.39px;top:1738.63px;font-size:18.16px;color:#15275e;font-weight:bold;transform:scaleX(1.1219);">54</div>
<div class="t" style="left:475.75px;top:1738.59px;font-size:10.53px;color:#15275e;font-weight:bold;transform:scaleX(0.9200);">%</div>
<div class="t" style="left:46.87px;top:1818.39px;font-size:19.97px;color:#2799d0;transform:scaleX(1.0289);">OVER ⅔ OF CONSUMERS ARE</div>
<div class="t" style="left:46.88px;top:1839.78px;font-size:20.11px;color:#2799d0;transform:scaleX(1.0185);">CONCERNED ABOUT THE SECURITY</div>
<div class="t" style="left:46.87px;top:1863.79px;font-size:19.97px;color:#2799d0;transform:scaleX(1.0297);">OF PERSONAL DATA ON IoT DEVICES</div>
<div class="t" style="left:188.28px;top:1936.13px;font-size:12.01px;color:#fff;font-weight:bold;transform:scaleX(1.0025);">UNCONCERNED</div>
<div class="t" style="left:186.17px;top:1960.13px;font-size:12.01px;color:#fff;font-weight:bold;transform:scaleX(0.9797);">NEITHER CONCERNED NOR UNCONCERNED</div>
<div class="t" style="left:188.54px;top:1984.41px;font-size:12.15px;color:#fff;font-weight:bold;transform:scaleX(0.9526);">CONCERNED</div>
<div class="t" style="left:506.13px;top:1832.51px;font-size:16.76px;color:#fff;font-weight:bold;transform:scaleX(0.8655);">11</div>
<div class="t" style="left:523.14px;top:1832.47px;font-size:9.72px;color:#fff;font-weight:bold;transform:scaleX(0.9408);">%</div>
<div class="t" style="left:502.37px;top:1861.04px;font-size:17.32px;color:#fff;font-weight:bold;transform:scaleX(1.1581);">20</div>
<div class="t" style="left:525.45px;top:1860.00px;font-size:10.04px;color:#fff;font-weight:bold;transform:scaleX(0.8769);">%</div>
<div class="t" style="left:502.20px;top:1943.40px;font-size:17.60px;color:#fff;font-weight:bold;transform:scaleX(1.1507);">69</div>
<div class="t" style="left:525.62px;top:1943.36px;font-size:10.21px;color:#fff;font-weight:bold;transform:scaleX(0.8580);">%</div>
<div class="t" style="left:63.38px;top:1909.04px;font-size:11.17px;color:#333;font-weight:bold;transform:scaleX(0.9466);">72</div>
<div class="t" style="left:171.94px;top:2049.16px;font-size:11.03px;color:#fff;transform:scaleX(1.0164);">Survey commissioned by Arlington Research in partnership with Gigya and</div>
<div class="t" style="left:171.06px;top:2061.16px;font-size:11.03px;color:#fff;transform:scaleX(1.0029);">answered by a statistically representative sample of 2,001 U.S. and 2,001</div>
<div class="t" style="left:171.63px;top:2073.16px;font-size:11.03px;color:#fff;transform:scaleX(0.9796);">U.K. adults 18 and older.</div>
</body></html>
